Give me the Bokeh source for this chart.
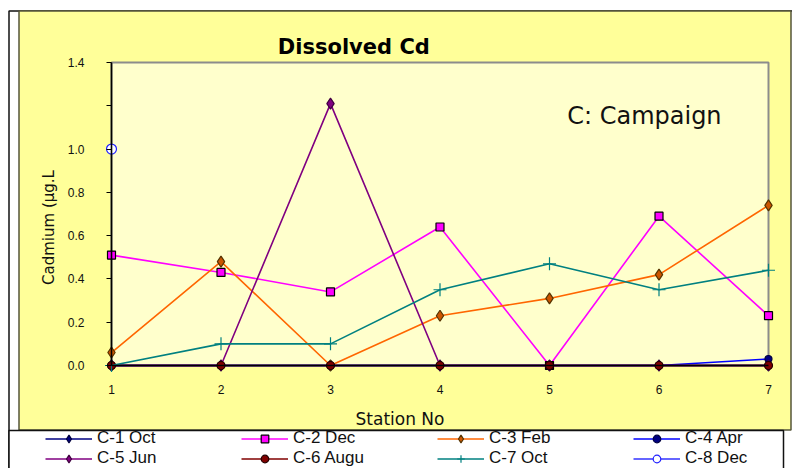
import math
from bokeh.plotting import figure
from bokeh.models import (Range1d, FixedTicker, BoxAnnotation, Label, Legend, LegendItem)
from bokeh.embed import file_html
from bokeh.resources import INLINE

NaN = float("nan")

# ---------------- data ----------------
stations = [1, 2, 3, 4, 5, 6, 7]
x_tick_labels = ["1", "2", "3", "4", "5", "6", "7"]
y_ticks = [0.0, 0.2, 0.4, 0.6, 0.8, 1.0, 1.2, 1.4]
y_tick_labels = ["0.0", "0.2", "0.4", "0.6", "0.8", "1.0", "", "1.4"]

series_names = ["C-1 Oct", "C-2 Dec", "C-3 Feb", "C-4 Apr",
                "C-5 Jun", "C-6 Augu", "C-7 Oct", "C-8 Dec"]
c1_oct = [0.0, 0.0, 0.0, 0.0, 0.0, 0.0, 0.0]
c2_dec = [0.51, 0.43, 0.34, 0.64, 0.0, 0.69, 0.23]
c3_feb = [0.06, 0.48, 0.0, 0.23, 0.31, 0.42, 0.74]
c4_apr = [0.0, 0.0, 0.0, 0.0, 0.0, 0.0, 0.03]
c5_jun = [0.0, 0.0, 1.21, 0.0, 0.0, 0.0, 0.0]
c6_augu = [0.0, 0.0, 0.0, 0.0, 0.0, 0.0, 0.0]
c7_oct = [0.0, 0.10, 0.10, 0.35, 0.47, 0.35, 0.44]
c8_dec = [1.0, NaN, NaN, NaN, NaN, NaN, NaN]
series_values = [c1_oct, c2_dec, c3_feb, c4_apr, c5_jun, c6_augu, c7_oct, c8_dec]

title_text = "Dissolved  Cd"
note_text = "C: Campaign"
y_label_text = "Cadmium (\u00b5g.L"
x_label_text = "Station No"

# ---------------- styles ----------------
styles = [
    dict(line="#000080", marker="diamond", size=11, fill="#000080", mline="#000040"),
    dict(line="#FF00FF", marker="square", size=8, fill="#FF00FF", mline="#000000"),
    dict(line="#FF6600", marker="diamond", size=11, fill="#CC5500", mline="#553300"),
    dict(line="#0000FF", marker="circle", size=7, fill="#000080", mline="#000040"),
    dict(line="#800080", marker="diamond", size=11, fill="#800080", mline="#400040"),
    dict(line="#800000", marker="circle", size=8, fill="#800000", mline="#200000"),
    dict(line="#008080", marker="cross", size=13, fill="#008080", mline="#008080"),
    dict(line="#3333FF", marker="circle", size=10, fill="#FFFFFF", mline="#2222FF"),
]

YEL = "#FFFF99"
LIGHT = "#FFFFCC"

W, H = 792, 468
X1, X7 = 111, 768                       # station 1 / 7 in canvas px
Y0, Y14 = 365, 62                       # 0.0 / 1.4 in canvas px
sxp = (X7 - X1) / 6.0
syp = (Y0 - Y14) / 1.4


def dx(px):
    return 1 + (px - X1) / sxp


def dy(py):
    return (Y0 - py) / syp


p = figure(width=W, height=H, x_range=Range1d(dx(0), dx(W)), y_range=Range1d(dy(H), dy(0)),
           output_backend="svg", toolbar_location=None,
           min_border_left=0, min_border_right=0, min_border_top=0, min_border_bottom=0)
p.background_fill_color = "white"
p.border_fill_color = "white"
p.outline_line_color = None
p.xgrid.visible = False
p.ygrid.visible = False


def pbox(l, r, t, b, **kw):
    return BoxAnnotation(left=dx(l), right=dx(r), top=dy(t), bottom=dy(b), level="underlay", **kw)


# chart panel, outer frame and legend box
p.add_layout(pbox(8.5, W + 5, 10.5, H + 5, fill_color="white", fill_alpha=1,
                  line_color="#111111", line_alpha=1, line_width=1.5))
p.add_layout(pbox(18.5, 790.5, 10.5, 429.5, fill_color=YEL, fill_alpha=1,
                  line_color="#55553A", line_alpha=1, line_width=1.5))
p.add_layout(pbox(8.5, 783, 430, H + 5, fill_color="white", fill_alpha=1,
                  line_color="#111111", line_alpha=1, line_width=1.5))
# plot area
p.add_layout(BoxAnnotation(left=1, right=7, bottom=0, top=1.4,
                           fill_color=LIGHT, fill_alpha=1.0,
                           line_color="#8C8C8C", line_alpha=1.0, line_width=2,
                           level="underlay"))

# axes
p.xaxis.fixed_location = 0
p.yaxis.fixed_location = 1
p.xaxis.bounds = (1, 7)
p.yaxis.bounds = (0, 1.4)
p.xaxis.ticker = FixedTicker(ticks=stations)
p.yaxis.ticker = FixedTicker(ticks=y_ticks)
p.xaxis.major_label_overrides = {s: l for s, l in zip(stations, x_tick_labels)}
p.yaxis.major_label_overrides = {t: l for t, l in zip(y_ticks, y_tick_labels)}
for ax in (p.xaxis, p.yaxis):
    ax.axis_line_color = "black"
    ax.axis_line_width = 1.6
    ax.minor_tick_line_color = None
    ax.minor_tick_out = 0
    ax.minor_tick_in = 0
    ax.major_label_text_font = "Liberation Sans"
    ax.major_label_text_font_size = "12px"
    ax.major_label_text_color = "#111111"
p.yaxis.major_tick_out = 5
p.yaxis.major_tick_in = 0
p.yaxis.major_tick_line_color = "black"
p.yaxis.major_label_standoff = 22
p.xaxis.major_tick_out = 0
p.xaxis.major_tick_in = 0
p.xaxis.major_tick_line_color = None
p.xaxis.major_label_standoff = 19

# series
items = []
for name, vals, st in zip(series_names, series_values, styles):
    lr = p.line(stations, vals, line_color=st["line"], line_width=1.6)
    sr = p.scatter(stations, vals, marker=st["marker"], size=st["size"],
                   fill_color=st["fill"], line_color=st["mline"], line_width=1.2)
    items.append(LegendItem(label=name, renderers=[lr, sr]))

legend = Legend(items=items, orientation="horizontal", ncols=4,
                location=(45, 0),
                glyph_width=47, glyph_height=19, label_height=19, label_width=144,
                label_standoff=5, spacing=0, padding=0, margin=0,
                border_line_alpha=0, background_fill_alpha=0,
                label_text_font="Liberation Sans", label_text_font_size="17px",
                label_text_color="#111111")
p.add_layout(legend, "center")


def plabel(x, y, text, **kw):
    return Label(x=dx(x), y=dy(y), text=text, **kw)


p.add_layout(plabel(357, 46.7, title_text, text_align="center", text_baseline="alphabetic",
                    text_font="DejaVu Sans", text_font_style="bold", text_font_size="21px",
                    text_color="#000000"))
p.add_layout(plabel(566.7, 115, note_text, text_align="left", text_baseline="alphabetic",
                    text_font="DejaVu Sans", text_font_size="24px", text_color="#111111"))
p.add_layout(plabel(48, 227, y_label_text, angle=math.pi / 2, text_align="center",
                    text_baseline="middle", text_font="DejaVu Sans", text_font_size="15px",
                    text_color="#111111"))
p.add_layout(plabel(399.5, 418, x_label_text, text_align="center", text_baseline="alphabetic",
                    text_font="DejaVu Sans", text_font_size="17px", text_color="#111111"))

open("out.html", "w").write(file_html(p, INLINE))
